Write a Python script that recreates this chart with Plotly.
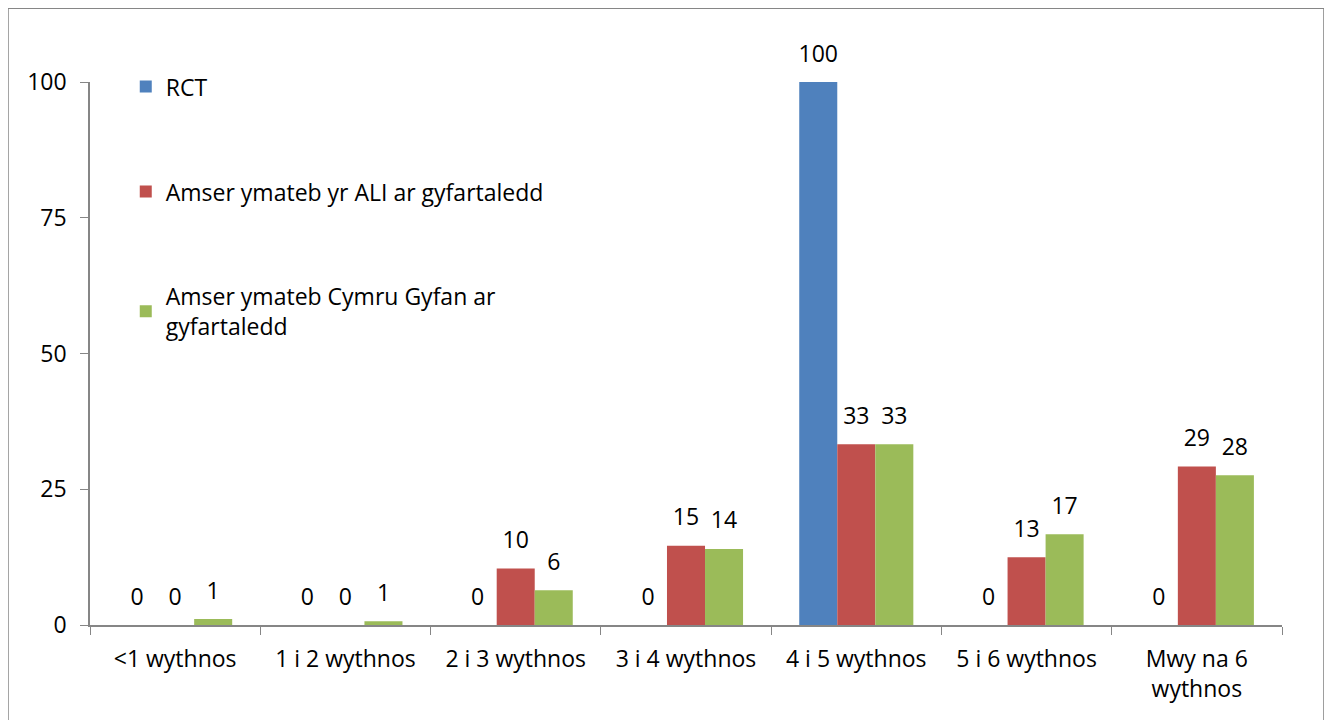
import plotly.graph_objects as go

categories = ["<1 wythnos", "1 i 2 wythnos", "2 i 3 wythnos", "3 i 4 wythnos",
              "4 i 5 wythnos", "5 i 6 wythnos", "Mwy na 6<br>wythnos"]
rct = [0, 0, 0, 0, 100, 0, 0]
ali = [0, 0, 10.4, 14.6, 33.3, 12.5, 29.2]
cymru = [1.1, 0.7, 6.4, 14.0, 33.3, 16.7, 27.6]
names = ["RCT", "Amser ymateb yr ALI ar gyfartaledd", "Amser ymateb Cymru Gyfan ar<br>gyfartaledd"]
colors = ["#4F81BD", "#C0504D", "#9BBB59"]
yticks = [0, 25, 50, 75, 100]

FONT = "Open Sans"
FS = 23
fig = go.Figure()
for i, (vals, name, col) in enumerate(zip([rct, ali, cymru], names, colors)):
    fig.add_trace(go.Bar(
        x=categories, y=vals, name=name, marker=dict(color=col, line=dict(width=0)),
        offsetgroup=str(i), legendgroup=f"g{i}",
    ))
for i, vals in enumerate([rct, ali, cymru]):
    fig.add_trace(go.Scatter(
        x=categories, y=vals, mode="markers+text", text=[f"{int(v + 0.5)}" for v in vals],
        marker=dict(size=22, color="rgba(0,0,0,0)"),
        textposition="top center", textfont=dict(family=FONT, size=FS, color="black"),
        offsetgroup=str(i), showlegend=False, cliponaxis=False, hoverinfo="skip",
    ))

fig.update_layout(
    width=1332, height=720,
    margin=dict(l=82, r=58, t=74, b=103),
    paper_bgcolor="white", plot_bgcolor="white",
    font=dict(family=FONT, size=FS, color="black"),
    barmode="group", bargap=0.33, bargroupgap=0,
    scattermode="group", scattergap=0.33,
    showlegend=True,
    legend=dict(x=0.030, y=1.031, xanchor="left", yanchor="top",
                bgcolor="rgba(0,0,0,0)", tracegroupgap=72,
                font=dict(family=FONT, size=FS, color="black"),
                itemwidth=30),
)
fig.update_xaxes(showline=True, linecolor="#868686", linewidth=1.5,
                 ticks="outside", tickson="boundaries", ticklen=8, tickcolor="#868686",
                 tickfont=dict(family=FONT, size=FS, color="black"), showgrid=False,
                 ticklabelstandoff=13)
fig.update_yaxes(range=[0, 100], tickvals=yticks, showline=True, linecolor="#868686", linewidth=1.5,
                 ticks="outside", ticklen=8, tickcolor="#868686", showgrid=False, zeroline=False,
                 tickfont=dict(family=FONT, size=FS, color="black"), ticklabelstandoff=9)
fig.add_shape(type="rect", xref="paper", yref="paper",
              x0=-0.0688, x1=1.0352, y0=-0.25, y1=1.136,
              line=dict(color="#868686", width=1.5), fillcolor="rgba(0,0,0,0)", layer="below")
fig.write_html("out.html")
